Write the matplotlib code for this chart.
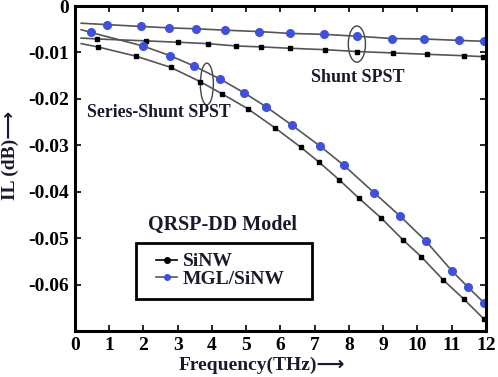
import numpy as np
import matplotlib.pyplot as plt
from matplotlib.patches import Ellipse, Rectangle

plt.rcParams['font.family'] = ['Liberation Serif', 'DejaVu Sans']
plt.rcParams['font.weight'] = 'bold'
plt.rcParams['axes.labelweight'] = 'bold'

# shunt SPST (first value = start of curve, no marker)
shunt_si_f = [0.18, 0.65, 2.06, 3.01, 3.88, 4.70, 5.43, 6.28, 7.30, 8.23, 9.28, 10.28, 11.36, 11.91]
shunt_si_il = [-0.0069, -0.0071, -0.0075, -0.0078, -0.0081, -0.0086, -0.0088, -0.0091, -0.0094,
               -0.0098, -0.0101, -0.0104, -0.0107, -0.0109]
shunt_mgl_f = [0.18, 0.93, 1.93, 2.74, 3.53, 4.38, 5.37, 6.28, 7.27, 8.23, 9.26, 10.19, 11.21, 11.94]
shunt_mgl_il = [-0.0037, -0.0040, -0.0044, -0.0047, -0.0049, -0.0052, -0.0055, -0.0059, -0.0061,
                -0.0065, -0.0070, -0.0071, -0.0074, -0.0076]

# series-shunt SPST
ss_si_f = [0.18, 0.66, 1.78, 2.79, 3.66, 4.29, 5.04, 5.85, 6.59, 7.12, 7.71, 8.29, 8.93, 9.58,
           10.11, 10.75, 11.35, 11.95]
ss_si_il = [-0.0081, -0.0088, -0.0108, -0.0132, -0.0163, -0.0189, -0.0221, -0.0263, -0.0304, -0.0336,
            -0.0374, -0.0414, -0.0456, -0.0504, -0.0540, -0.0590, -0.0631, -0.0675]
ss_mgl_f = [0.18, 0.47, 1.98, 2.78, 3.47, 4.23, 4.94, 5.58, 6.34, 7.16, 7.85, 8.73, 9.50, 10.24,
            11.00, 11.48, 11.94]
ss_mgl_il = [-0.0051, -0.0057, -0.0086, -0.0107, -0.0129, -0.0157, -0.0187, -0.0217, -0.0257, -0.0302,
             -0.0343, -0.0402, -0.0453, -0.0506, -0.0570, -0.0606, -0.0639]

blue = '#3d50e0'
linec = '#555555'
txtc = '#1a1a2e'

fig = plt.figure(figsize=(4.98, 3.77), dpi=100)
ax = fig.add_axes([0.1506, 0.122, 0.8253, 0.862])

for f, il in [(shunt_si_f, shunt_si_il), (ss_si_f, ss_si_il)]:
    ax.plot(f, il, color=linec, lw=1.2, marker='s', ms=3.5, mfc='black', mec='black',
            markevery=list(range(1, len(f))))
for f, il in [(shunt_mgl_f, shunt_mgl_il), (ss_mgl_f, ss_mgl_il)]:
    ax.plot(f, il, color=linec, lw=1.2, marker='o', ms=5.5, mfc=blue, mec=blue,
            markevery=list(range(1, len(f))))

# legend: handles + hand drawn box
ax.plot([], [], color='black', lw=1.2, marker='o', ms=4, label='SiNW')
ax.plot([], [], color=linec, lw=1.2, marker='o', ms=4, mfc=blue, mec=blue, label='MGL/SiNW')
leg = ax.legend(loc='center left', bbox_to_anchor=(0.173, 0.187), fontsize=14, frameon=False,
                handlelength=1.1, handletextpad=0.3, labelspacing=-0.02, borderpad=0)
for t in leg.get_texts():
    t.set_color(txtc)
ax.add_patch(Rectangle((1.78, -0.0632), 5.14, 0.0121, fill=False, ec='black', lw=2, zorder=5))

ax.add_patch(Ellipse((3.85, -0.0168), 0.38, 0.009, fill=False, color='#444444', lw=1))
ax.add_patch(Ellipse((8.23, -0.0082), 0.5, 0.0078, fill=False, color='#444444', lw=1))
ax.text(8.25, -0.0153, 'Shunt SPST', ha='center', va='center', fontsize=13, color=txtc)
ax.text(2.44, -0.0229, 'Series-Shunt SPST', ha='center', va='center', fontsize=12.8, color=txtc)
ax.text(4.3, -0.0471, 'QRSP-DD Model', ha='center', va='center', fontsize=14.5, color=txtc)

ax.set_xlim(0, 12)
ax.set_ylim(-0.07, 0)
ax.set_xticks(range(0, 13))
ax.set_yticks([0, -0.01, -0.02, -0.03, -0.04, -0.05, -0.06])
ax.set_yticklabels(['0', '-0.01', '-0.02', '-0.03', '-0.04', '-0.05', '-0.06'])
ax.tick_params(direction='in', top=True, right=True, length=4, width=1.2, labelsize=14, pad=4)
for lbl in ax.get_xticklabels() + ax.get_yticklabels():
    lbl.set_fontweight('bold')
for s in ax.spines.values():
    s.set_linewidth(2.2)

ax.set_xlabel('Frequency(THz)\u27f6', fontsize=14, fontweight='bold', color=txtc)
ax.xaxis.set_label_coords(0.455, -0.08)
ax.set_ylabel('IL (dB)\u27f6', fontsize=14, fontweight='bold', color=txtc)
ax.yaxis.set_label_coords(-0.136, 0.54)

plt.savefig('out.png', dpi=100)
